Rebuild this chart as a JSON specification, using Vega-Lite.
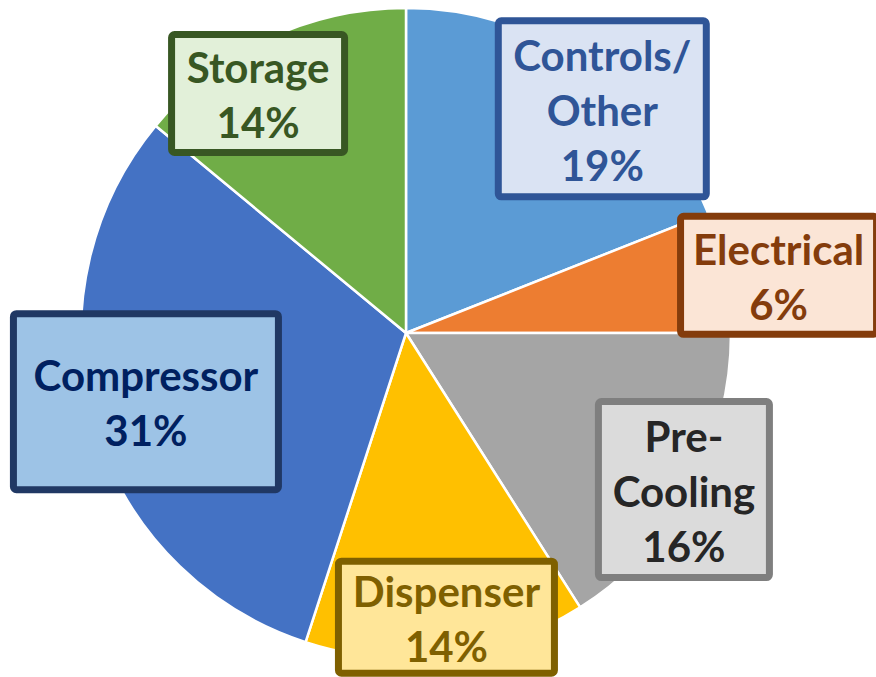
{
  "$schema": "https://vega.github.io/schema/vega-lite/v6.json",
  "width": 812,
  "height": 666,
  "autosize": "none",
  "padding": {"left": 0, "top": 0, "right": 64, "bottom": 11},
  "background": "white",
  "view": {"stroke": null},
  "data": {
    "values": [
      {"cat": "Controls/Other", "pct": 19},
      {"cat": "Electrical", "pct": 6},
      {"cat": "Pre-Cooling", "pct": 16},
      {"cat": "Dispenser", "pct": 14},
      {"cat": "Compressor", "pct": 31},
      {"cat": "Storage", "pct": 14}
    ]
  },
  "transform": [
    {"stack": "pct", "groupby": [], "as": ["s0", "s1"]},
    {"calculate": "(datum.s0 + datum.s1) / 2", "as": "mid"},
    {"calculate": "datum.cat === 'Controls/Other' ? 298 : datum.cat === 'Electrical' ? 377 : datum.cat === 'Pre-Cooling' ? 319 : datum.cat === 'Dispenser' ? 287 : datum.cat === 'Compressor' ? 269 : 281.5", "as": "lr"},
    {"calculate": "datum.cat === 'Controls/Other' ? 7.0 : datum.cat === 'Electrical' ? 2.0 : datum.cat === 'Pre-Cooling' ? 0.6 : datum.cat === 'Dispenser' ? -0.9 : datum.cat === 'Compressor' ? 1.4 : -6.5", "as": "la"},
    {"calculate": "datum.cat === 'Controls/Other' ? 208 : datum.cat === 'Electrical' ? 196 : datum.cat === 'Pre-Cooling' ? 171 : datum.cat === 'Dispenser' ? 216 : datum.cat === 'Compressor' ? 265 : 173", "as": "bw"},
    {"calculate": "datum.cat === 'Controls/Other' || datum.cat === 'Pre-Cooling' || datum.cat === 'Compressor' ? 176 : datum.cat === 'Dispenser' ? 112 : 118", "as": "bh"},
    {"calculate": "(datum.mid * 3.6 + datum.la) * PI / 180", "as": "ang"},
    {"calculate": "datum.lr * sin(datum.ang)", "as": "lx"},
    {"calculate": "datum.lr * cos(datum.ang)", "as": "ly"},
    {"calculate": "datum.lx - datum.bw / 2", "as": "x0"},
    {"calculate": "datum.lx + datum.bw / 2", "as": "x1"},
    {"calculate": "datum.ly - datum.bh / 2", "as": "y0"},
    {"calculate": "datum.ly + datum.bh / 2", "as": "y1"},
    {"calculate": "replace(replace(datum.cat, '/', '/\\n'), 'Pre-', 'Pre-\\n') + '\\n' + datum.pct + '%'", "as": "label"},
    {"calculate": "datum.ly + (length(split(datum.label, '\\n')) - 1) * 27.5 - 4", "as": "ty"}
  ],
  "layer": [
    {
      "mark": {"type": "arc", "radius": 325, "stroke": "white", "strokeWidth": 2.5},
      "encoding": {
        "theta": {"field": "s0", "type": "quantitative", "scale": {"domain": [0, 100]}},
        "theta2": {"field": "s1"},
        "x": {"datum": 0, "type": "quantitative", "scale": {"domain": [-406, 406], "nice": false, "zero": false}, "axis": null},
        "y": {"datum": 0, "type": "quantitative", "scale": {"domain": [-333, 333], "nice": false, "zero": false}, "axis": null},
        "color": {
          "field": "cat", "type": "nominal", "legend": null,
          "scale": {
            "domain": ["Controls/Other", "Electrical", "Pre-Cooling", "Dispenser", "Compressor", "Storage"],
            "range": ["#5B9BD5", "#ED7D31", "#A5A5A5", "#FFC000", "#4472C4", "#70AD47"]
          }
        }
      }
    },
    {
      "mark": {"type": "rect", "strokeWidth": 7, "cornerRadius": 3},
      "encoding": {
        "x": {"field": "x0", "type": "quantitative", "scale": {"domain": [-406, 406], "nice": false, "zero": false}, "axis": null},
        "x2": {"field": "x1"},
        "y": {"field": "y0", "type": "quantitative", "scale": {"domain": [-333, 333], "nice": false, "zero": false}, "axis": null},
        "y2": {"field": "y1"},
        "fill": {
          "field": "cat", "type": "nominal", "legend": null,
          "scale": {
            "domain": ["Controls/Other", "Electrical", "Pre-Cooling", "Dispenser", "Compressor", "Storage"],
            "range": ["#DAE3F3", "#FBE5D6", "#DBDBDB", "#FFE699", "#9DC3E6", "#E2F0D9"]
          }
        },
        "stroke": {
          "field": "cat", "type": "nominal", "legend": null,
          "scale": {
            "domain": ["Controls/Other", "Electrical", "Pre-Cooling", "Dispenser", "Compressor", "Storage"],
            "range": ["#2F5597", "#843C0C", "#7F7F7F", "#7F6000", "#203864", "#385723"]
          }
        }
      }
    },
    {
      "mark": {"type": "text", "font": "Lato", "fontWeight": "bold", "fontSize": 42, "lineHeight": 55, "lineBreak": "\n", "align": "center", "baseline": "middle"},
      "encoding": {
        "x": {"field": "lx", "type": "quantitative", "scale": {"domain": [-406, 406], "nice": false, "zero": false}, "axis": null},
        "y": {"field": "ty", "type": "quantitative", "scale": {"domain": [-333, 333], "nice": false, "zero": false}, "axis": null},
        "text": {"field": "label"},
        "color": {
          "field": "cat", "type": "nominal", "legend": null,
          "scale": {
            "domain": ["Controls/Other", "Electrical", "Pre-Cooling", "Dispenser", "Compressor", "Storage"],
            "range": ["#2F5597", "#843C0C", "#262626", "#7F6000", "#002060", "#385723"]
          }
        }
      }
    }
  ],
  "resolve": {"scale": {"color": "independent"}}
}
